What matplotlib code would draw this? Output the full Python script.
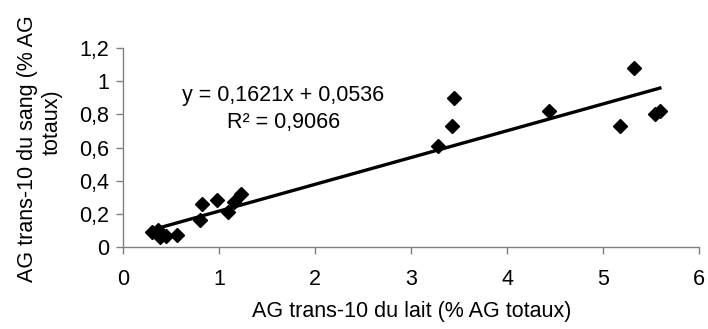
import numpy as np
import matplotlib
matplotlib.use('Agg')
import matplotlib.pyplot as plt
from matplotlib.ticker import FuncFormatter

plt.rcParams['font.family'] = ['Liberation Sans', 'DejaVu Sans']

# AG trans-10 : lait (x) vs sang (y)
lait = [0.30, 0.36, 0.38, 0.45, 0.56, 0.80, 0.82, 0.98, 1.09, 1.15, 1.23,
        3.275, 3.42, 3.445, 4.44, 5.17, 5.32, 5.54, 5.59]
sang = [0.091, 0.10, 0.057, 0.065, 0.071, 0.16, 0.26, 0.28, 0.21, 0.27, 0.32,
        0.61, 0.73, 0.90, 0.82, 0.73, 1.08, 0.80, 0.82]

# regression line
pente = 0.1621
ordonnee = 0.0536
r2 = 0.9066

fs = 15.5

fig = plt.figure(figsize=(7.08, 3.29), dpi=100)
ax = fig.add_axes([0.174, 0.250, 0.8136, 0.603])

ax.plot(lait, sang, 'D', color='black', markersize=7, zorder=3)
xl = np.array([min(lait), max(lait)])
ax.plot(xl, pente * xl + ordonnee, color='black', linewidth=2.4, zorder=2)

ax.set_xlim(0, 6)
ax.set_ylim(0, 1.2)
ax.set_xticks(range(0, 7))
ax.set_yticks([0, 0.2, 0.4, 0.6, 0.8, 1.0, 1.2])

def virgule(v, pos):
    s = ('%.1f' % v).rstrip('0').rstrip('.')
    return s.replace('.', ',')

ax.yaxis.set_major_formatter(FuncFormatter(virgule))
ax.xaxis.set_major_formatter(FuncFormatter(virgule))

for s in ['top', 'right']:
    ax.spines[s].set_visible(False)
for s in ['left', 'bottom']:
    ax.spines[s].set_color('#808080')
    ax.spines[s].set_linewidth(1.0)
ax.tick_params(axis='both', direction='out', length=5, width=1.0,
               color='#808080', labelsize=fs, pad=5)
ax.tick_params(axis='x', pad=11)

ax.text(1.667, 0.912, 'y = 0,1621x + 0,0536', fontsize=fs, ha='center', va='center')
ax.text(1.667, 0.754, 'R² = 0,9066', fontsize=fs, ha='center', va='center')

fig.text(0.582, 0.052, 'AG trans-10 du lait (% AG totaux)', fontsize=fs,
         ha='center', va='center')
fig.text(0.0395, 0.547, 'AG trans-10 du sang (% AG', fontsize=fs,
         ha='center', va='center', rotation=90)
fig.text(0.0734, 0.629, 'totaux)', fontsize=fs,
         ha='center', va='center', rotation=90)

fig.savefig('out.png', dpi=100)
